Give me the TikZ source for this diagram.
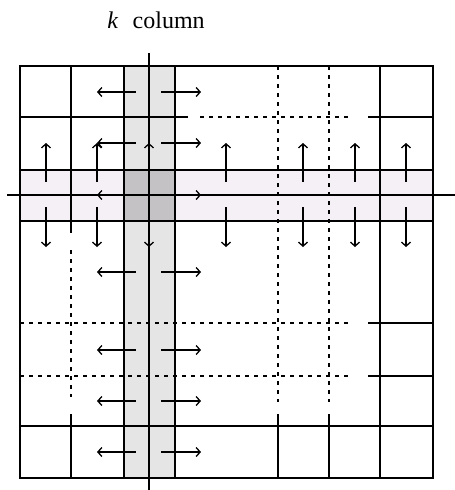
\documentclass[tikz,border=0pt]{standalone}
\usepackage{fontspec}
\setmainfont{Liberation Serif}
\usetikzlibrary{arrows.meta}
\definecolor{colgray}{HTML}{E5E5E5}
\definecolor{rowpink}{HTML}{F5F0F5}
\definecolor{crossgray}{HTML}{C4C2C4}
\begin{document}
\begin{tikzpicture}[x=1pt,y=-1pt,
  grid/.style={line width=1.3pt,black},
  dashgrid/.style={line width=1.3pt,black,dash pattern=on 4pt off 5pt},
  flow/.style={line width=1.2pt,black,-{Straight Barb[length=4pt,width=9pt,line width=1.3pt]}}]
\useasboundingbox (0,0) rectangle (455,490);
% fills
\fill[colgray] (124,66) rectangle (175,478);
\fill[rowpink] (20,170) rectangle (433,221);
\fill[crossgray] (124,170) rectangle (175,221);
% solid grid
\draw[grid] (20,66) rectangle (433,478);
\foreach \x in {124,175,380} \draw[grid] (\x,66) -- (\x,478);
\foreach \y in {170,221,426} \draw[grid] (20,\y) -- (433,\y);
\draw[grid] (71,66) -- (71,233);
\draw[grid] (71,414) -- (71,478);
\foreach \x in {278,329} \draw[grid] (\x,414) -- (\x,478);
\draw[grid] (20,117) -- (188,117);
\foreach \y in {117,323,376} \draw[grid] (368,\y) -- (433,\y);
% dashed grid
\draw[dashgrid] (71,250) -- (71,397);
\foreach \x in {278,329} \draw[dashgrid] (\x,66) -- (\x,402);
\draw[dashgrid] (200,117) -- (352,117);
\foreach \y in {323,376} \draw[dashgrid] (20,\y) -- (352,\y);
% axes of k column / row
\draw[grid] (149,53) -- (149,490);
\draw[grid] (7,195) -- (455,195);
% horizontal flows
\foreach \y in {92,143,195,272,350,401,452} {
  \draw[flow] (136,\y) -- (97,\y);
  \draw[flow] (161,\y) -- (201,\y);
}
% vertical flows
\foreach \x in {46,97,149,226,303,355,406} {
  \draw[flow] (\x,182) -- (\x,143);
  \draw[flow] (\x,207) -- (\x,247);
}
% label
\node[font=\fontsize{24}{27}\selectfont, anchor=base] (lbl) at (156,28) {\textit{k}\hspace{0.6em}column};
\end{tikzpicture}
\end{document}
